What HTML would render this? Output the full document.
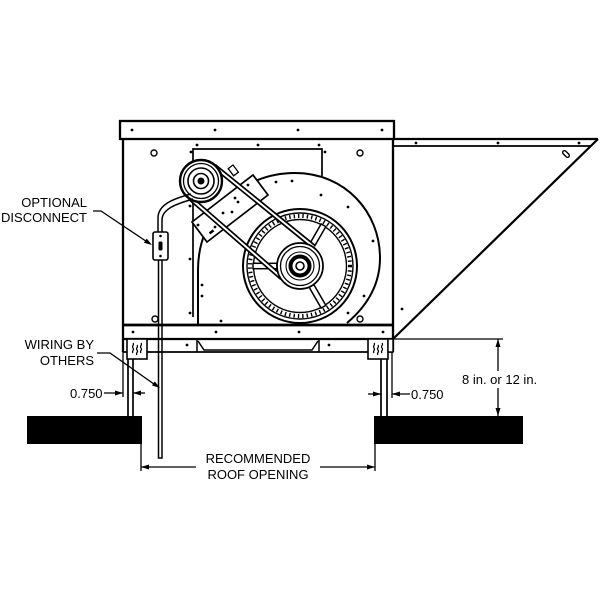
<!DOCTYPE html>
<html>
<head>
<meta charset="utf-8">
<style>
  html,body{margin:0;padding:0;background:#fff;}
  svg{display:block;}
  text{font-family:"Liberation Sans",Arial,sans-serif;font-size:13px;fill:#000;}
</style>
</head>
<body>
<svg width="600" height="600" viewBox="0 0 600 600" xmlns="http://www.w3.org/2000/svg">
<rect width="600" height="600" fill="#fff"/>

<!-- HOOD -->
<g fill="none" stroke="#000">
  <line x1="393" y1="139" x2="598" y2="139" stroke-width="2.2"/>
  <line x1="393" y1="146" x2="591" y2="146" stroke-width="1.7"/>
  <line x1="598" y1="139" x2="393" y2="339" stroke-width="2.2"/>
  <rect x="-4" y="-1.8" width="8" height="3.6" rx="1.8" transform="translate(566,154) rotate(45)" stroke-width="1.4"/>
</g>
<g fill="#000">
  <circle cx="416" cy="143" r="1.4"/><circle cx="498" cy="143" r="1.4"/><circle cx="579" cy="143" r="1.4"/>
  <circle cx="402" cy="309" r="1.4"/>
</g>

<!-- CABINET -->
<g fill="none" stroke="#000">
  <rect x="120" y="121" width="274" height="18" stroke-width="2.3"/>
  <line x1="123" y1="139" x2="123" y2="352" stroke-width="2.3"/>
  <line x1="393" y1="139" x2="393" y2="352" stroke-width="2.3"/>
  <line x1="123" y1="325" x2="393" y2="325" stroke-width="2.8"/>
  <line x1="123" y1="339" x2="393" y2="339" stroke-width="2.3"/>
  <line x1="123" y1="352" x2="393" y2="352" stroke-width="1.7"/>
  <path d="M197,339 V352 M319,339 V352 M198,341 L204,350 H312 L318,341" stroke-width="1.5"/>
  <!-- inner panel -->
  <path d="M193,317 V149 H322 V177" stroke-width="1.7"/>
  <!-- holes -->
  <circle cx="154" cy="153" r="3" stroke-width="1.4"/>
  <circle cx="360" cy="153" r="3" stroke-width="1.4"/>
  <circle cx="155" cy="319" r="3" stroke-width="1.4"/>
  <circle cx="360" cy="319" r="3" stroke-width="1.4"/>
</g>
<g fill="#000">
  <circle cx="132" cy="130" r="1.4"/><circle cx="215" cy="130" r="1.4"/><circle cx="298" cy="130" r="1.4"/><circle cx="382" cy="130" r="1.4"/>
  <circle cx="133" cy="332" r="1.4"/><circle cx="216" cy="332" r="1.4"/><circle cx="299" cy="332" r="1.4"/><circle cx="383" cy="332" r="1.4"/>
  <circle cx="187" cy="345" r="1.4"/><circle cx="329" cy="345" r="1.4"/>
  <circle cx="197" cy="145" r="1.4"/><circle cx="258" cy="145" r="1.4"/><circle cx="319" cy="145" r="1.4"/>
  <circle cx="191" cy="152" r="1.4"/><circle cx="325" cy="152" r="1.4"/>
  <circle cx="292" cy="181" r="1.4"/><circle cx="276" cy="182" r="1.4"/><circle cx="321" cy="195" r="1.4"/>
  <circle cx="348" cy="207" r="1.4"/><circle cx="373" cy="241" r="1.4"/><circle cx="190" cy="259" r="1.4"/>
  <circle cx="190" cy="313" r="1.4"/><circle cx="202" cy="285" r="1.4"/><circle cx="202" cy="296" r="1.4"/>
  <circle cx="221" cy="321" r="1.4"/><circle cx="348" cy="313" r="1.4"/><circle cx="364" cy="296" r="1.4"/>
  <circle cx="190" cy="206" r="1.4"/>
</g>

<!-- FAN SCROLL -->
<path d="M198,325 L198,270 C198,215 240,173 295,173 C345,173 380,212 380,258 C380,285 367,306 347,323" fill="none" stroke="#000" stroke-width="2"/>

<!-- WHEEL -->
<g fill="none" stroke="#000">
  <circle cx="300" cy="266" r="57" stroke-width="2"/>
  <circle cx="300" cy="266" r="53" stroke-width="1.4"/>
  <circle cx="300" cy="266" r="50" stroke-width="4" stroke-dasharray="1.4 3"/>
  <circle cx="300" cy="266" r="46.5" stroke-width="1.4"/>
</g>
<g fill="#fff" stroke="#000" stroke-width="1.5">
  <rect x="23" y="-2.7" width="24" height="5.4" transform="translate(300,266) rotate(180)"/>
  <rect x="23" y="-2.7" width="24" height="5.4" transform="translate(300,266) rotate(-60)"/>
  <rect x="23" y="-2.7" width="24" height="5.4" transform="translate(300,266) rotate(60)"/>
</g>

<!-- MOTOR PLATE -->
<polygon points="207,242 268,195 253,175 192,222" fill="#fff" stroke="#000" stroke-width="1.7"/>
<rect x="230" y="166" width="6" height="9" transform="rotate(-37 233 170)" fill="#fff" stroke="#000" stroke-width="1.3"/>
<g fill="#000">
  <circle cx="248" cy="185" r="1.4"/><circle cx="235" cy="198" r="1.4"/><circle cx="238" cy="202" r="1.4"/>
  <circle cx="223" cy="213" r="1.4"/><circle cx="232" cy="212" r="1.4"/><circle cx="215" cy="227" r="1.4"/>
  <circle cx="198" cy="225" r="1.4"/>
  <rect x="209" y="231" width="5" height="2.5" transform="rotate(-37 211 232)"/>
</g>

<!-- BELTS -->
<g stroke-linecap="butt">
  <line x1="214" y1="166" x2="314" y2="247" stroke="#000" stroke-width="5.4"/>
  <line x1="214" y1="166" x2="314" y2="247" stroke="#fff" stroke-width="2"/>
  <line x1="190" y1="198" x2="282" y2="278" stroke="#000" stroke-width="5.4"/>
  <line x1="190" y1="198" x2="282" y2="278" stroke="#fff" stroke-width="2"/>
</g>

<!-- FAN HUB -->
<g fill="#fff" stroke="#000">
  <circle cx="300" cy="266" r="23" stroke-width="1.7"/>
  <circle cx="300" cy="266" r="19.5" stroke-width="1.3"/>
  <circle cx="300" cy="266" r="14" stroke-width="1.1"/>
  <circle cx="300" cy="266" r="9.5" stroke-width="4"/>
  <circle cx="300" cy="266" r="4" stroke-width="1.6"/>
</g>

<!-- MOTOR PULLEY -->
<g fill="#fff" stroke="#000">
  <circle cx="201" cy="181" r="21" stroke-width="2.4"/>
  <circle cx="201" cy="181" r="17.5" stroke-width="1.3"/>
  <circle cx="201" cy="181" r="13" stroke-width="1.6"/>
  <circle cx="201" cy="181" r="7.5" stroke-width="1.6"/>
</g>
<circle cx="201" cy="181" r="3.5" fill="#000"/>

<!-- CONDUIT -->
<g fill="none" stroke="#000" stroke-width="1.5">
  <path d="M158,232 L158,218 C158,205 172,199 191,194"/>
  <path d="M162,232 L162,220 C162,209 176,204 193,199"/>
  <path d="M158.5,260 V458 H162 V260"/>
</g>
<rect x="153" y="232" width="15" height="28" rx="2" fill="#fff" stroke="#000" stroke-width="1.6"/>
<rect x="158.5" y="241.5" width="4" height="9" rx="1.5" fill="#000"/>
<circle cx="160.5" cy="236" r="1.3" fill="#000"/>
<circle cx="160.5" cy="256" r="1.3" fill="#000"/>

<!-- BRACKETS & LEGS -->
<g fill="none" stroke="#000" stroke-width="1.7">
  <line x1="128" y1="359" x2="128" y2="416"/>
  <line x1="133" y1="359" x2="133" y2="416"/>
  <line x1="123" y1="352" x2="123" y2="397" stroke-width="1.3"/>
  <line x1="381" y1="359" x2="381" y2="416"/>
  <line x1="387" y1="359" x2="387" y2="416"/>
  <line x1="392" y1="352" x2="392" y2="398" stroke-width="1.3"/>
</g>
<rect x="127" y="339" width="20" height="20" fill="#fff" stroke="#000" stroke-width="1.6"/>
<rect x="368" y="339" width="20" height="20" fill="#fff" stroke="#000" stroke-width="1.6"/>
<rect x="388" y="339" width="5" height="13" fill="#fff" stroke="#000" stroke-width="1.4"/>
<g fill="none" stroke="#000" stroke-width="1.2">
  <path d="M133,343 c2,2 -2,3 0,5 c2,2 -2,3 0,5"/>
  <path d="M137,345 c2,2 -2,3 0,5 c2,2 -2,3 0,5"/>
  <path d="M141,343 c2,2 -2,3 0,5 c2,2 -2,3 0,5"/>
  <path d="M374,343 c2,2 -2,3 0,5 c2,2 -2,3 0,5"/>
  <path d="M378,345 c2,2 -2,3 0,5 c2,2 -2,3 0,5"/>
  <path d="M382,343 c2,2 -2,3 0,5 c2,2 -2,3 0,5"/>
</g>

<!-- ROOF CURBS -->
<rect x="27" y="416" width="115" height="28" fill="#000"/>
<rect x="374" y="416" width="149" height="28" fill="#000"/>

<!-- DIMENSIONS -->
<g fill="none" stroke="#000" stroke-width="1.3">
  <line x1="104" y1="393" x2="123" y2="393"/>
  <line x1="133" y1="393" x2="145" y2="393"/>
  <line x1="368" y1="394" x2="381" y2="394"/>
  <line x1="392" y1="394" x2="410" y2="394"/>
  <line x1="393" y1="339" x2="503" y2="339"/>
  <line x1="498" y1="339" x2="498" y2="371"/>
  <line x1="498" y1="388" x2="498" y2="416"/>
  <line x1="141" y1="444" x2="141" y2="471"/>
  <line x1="375" y1="444" x2="375" y2="471"/>
  <line x1="141" y1="467" x2="196" y2="467"/>
  <line x1="320" y1="467" x2="375" y2="467"/>
  <polyline points="93,211 101,211 148,242.5"/>
  <polyline points="97,353 110,353 156,385.5"/>
</g>
<g fill="#000">
  <polygon points="123,393 115,390.5 115,395.5"/>
  <polygon points="133,393 141,390.5 141,395.5"/>
  <polygon points="381,394 373,391.5 373,396.5"/>
  <polygon points="392,394 400,391.5 400,396.5"/>
  <polygon points="498,339 495.5,347 500.5,347"/>
  <polygon points="498,416 495.5,408 500.5,408"/>
  <polygon points="141,467 149,464.5 149,469.5"/>
  <polygon points="375,467 367,464.5 367,469.5"/>
  <polygon points="152,245 143.9,242.7 146.7,238.5"/>
  <polygon points="160,388 152,385.5 154.8,381.4"/>
</g>

<!-- LABELS -->
<text x="87" y="207" text-anchor="end">OPTIONAL</text>
<text x="87" y="222" text-anchor="end">DISCONNECT</text>
<text x="94" y="349" text-anchor="end">WIRING BY</text>
<text x="94" y="365" text-anchor="end">OTHERS</text>
<text x="70" y="398">0.750</text>
<text x="411" y="399">0.750</text>
<text x="462" y="384">8 in. or 12 in.</text>
<text x="258" y="463" text-anchor="middle">RECOMMENDED</text>
<text x="258" y="479" text-anchor="middle">ROOF OPENING</text>
</svg>
</body>
</html>
